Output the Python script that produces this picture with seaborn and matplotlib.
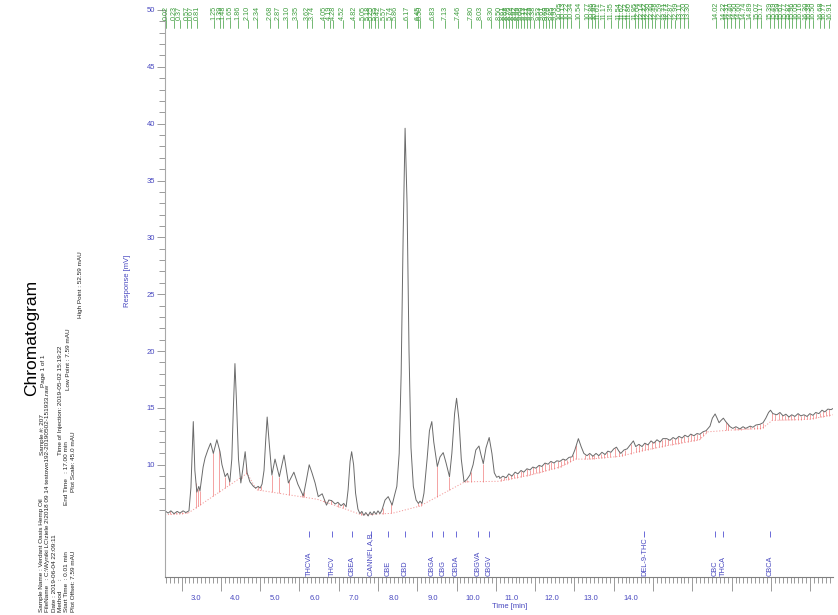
import numpy as np
import pandas as pd
import matplotlib
matplotlib.use("Agg")
import matplotlib.pyplot as plt
import matplotlib.transforms as mtransforms
import seaborn as sns

# --- trace (time in min, response in mV) ---
trace_t = [0.00, 0.08, 0.15, 0.23, 0.31, 0.38, 0.46, 0.53, 0.61, 0.66, 0.72, 0.76, 0.81, 0.86, 0.89,
           0.97, 1.02, 1.09, 1.16, 1.23, 1.32, 1.40, 1.45, 1.53, 1.59, 1.65, 1.70, 1.74, 1.78, 1.82,
           1.87, 1.93, 1.98, 2.04, 2.09, 2.16, 2.25, 2.31, 2.37, 2.42, 2.47, 2.52, 2.56, 2.60, 2.65,
           2.72, 2.80, 2.91, 3.03, 3.14, 3.28, 3.38, 3.52, 3.59, 3.67, 3.74, 3.82, 3.90, 4.00, 4.11,
           4.17, 4.24, 4.33, 4.40, 4.48, 4.55, 4.61, 4.66, 4.71, 4.75, 4.80, 4.85, 4.91, 4.96, 5.01,
           5.06, 5.11, 5.17, 5.22, 5.27, 5.32, 5.37, 5.42, 5.47, 5.52, 5.60, 5.68, 5.78, 5.84, 5.90,
           5.96, 6.01, 6.06, 6.11, 6.16, 6.21, 6.26, 6.32, 6.39, 6.45, 6.49, 6.54, 6.59, 6.67, 6.73,
           6.79, 6.84, 6.93, 7.00, 7.08, 7.15, 7.24, 7.30, 7.37, 7.42, 7.48, 7.54, 7.61, 7.68, 7.76,
           7.84, 7.91, 7.99, 8.04, 8.10, 8.17, 8.25, 8.32, 8.38, 8.44, 8.50, 8.52, 8.60, 8.68, 8.75,
           8.83, 8.91, 8.98, 9.06, 9.13, 9.21, 9.29, 9.36, 9.44, 9.52, 9.59, 9.67, 9.75, 9.82, 9.90,
           9.97, 10.05, 10.13, 10.20, 10.28, 10.36, 10.43, 10.52, 10.59, 10.66, 10.74, 10.81, 10.89, 10.97, 11.04,
           11.12, 11.20, 11.27, 11.35, 11.42, 11.49, 11.55, 11.60, 11.68, 11.76, 11.83, 11.92, 11.98, 12.06, 12.14,
           12.21, 12.29, 12.37, 12.44, 12.52, 12.60, 12.67, 12.77, 12.85, 12.93, 13.00, 13.08, 13.16, 13.23, 13.31,
           13.38, 13.46, 13.54, 13.61, 13.69, 13.77, 13.82, 13.87, 13.93, 14.00, 14.05, 14.10, 14.15, 14.21, 14.27,
           14.38, 14.45, 14.53, 14.63, 14.71, 14.78, 14.89, 14.96, 15.04, 15.14, 15.22, 15.29, 15.36, 15.41, 15.47,
           15.57, 15.65, 15.73, 15.80, 15.88, 15.95, 16.03, 16.11, 16.18, 16.26, 16.34, 16.41, 16.49, 16.56, 16.64,
           16.72, 16.79, 16.87, 16.95, 17.00]
trace_mv = [5.95, 5.75, 5.95, 5.70, 5.90, 5.75, 5.95, 5.80, 5.95, 8.0, 13.8, 9.5, 7.6, 8.1, 7.7,
            9.8, 10.6, 11.3, 11.9, 11.0, 12.2, 11.15, 10.0, 8.96, 9.25, 8.5, 10.5, 15.0, 18.9, 15.5,
            10.5, 8.4, 9.6, 11.15, 9.3, 8.5, 8.1, 7.95, 8.1, 7.95, 8.3, 9.5, 12.0, 14.2, 12.0,
            9.1, 10.5, 8.95, 10.85, 8.4, 9.35, 8.3, 7.25, 8.5, 10.0, 9.3, 8.4, 7.2, 7.45, 6.45,
            6.9, 6.85, 6.55, 6.7, 6.4, 6.6, 6.3, 7.8, 10.3, 11.15, 10.0, 7.5, 6.1, 5.7, 5.9,
            5.55, 5.8, 5.5, 5.85, 5.6, 5.9, 5.65, 5.95, 5.7, 6.0, 6.9, 7.2, 6.45, 7.3, 8.1,
            11.0, 18.0, 30.0, 39.6, 33.0, 20.0, 11.5, 8.1, 6.9, 6.6, 6.8, 6.6, 7.5, 10.5, 13.0,
            13.8, 12.0, 9.85, 10.7, 11.07, 10.2, 8.95, 11.0, 14.5, 15.85, 14.0, 10.5, 8.5, 8.7, 9.1,
            10.0, 11.3, 11.65, 10.9, 10.1, 11.5, 12.4, 11.0, 9.3, 8.9, 9.0, 8.8, 9.0, 8.85, 9.2,
            9.0, 9.35, 9.2, 9.5, 9.35, 9.65, 9.55, 9.8, 9.7, 9.95, 9.85, 10.15, 10.05, 10.3, 10.15,
            10.35, 10.3, 10.5, 10.4, 10.65, 10.7, 11.3, 12.3, 11.6, 11.0, 10.8, 11.0, 10.75, 11.0, 10.8,
            11.1, 10.9, 11.2, 11.1, 11.4, 11.55, 11.2, 11.0, 11.3, 11.4, 11.7, 12.1, 11.6, 11.8, 11.6,
            11.9, 11.75, 12.1, 11.9, 12.2, 12.0, 12.3, 12.3, 12.15, 12.4, 12.25, 12.5, 12.35, 12.6, 12.45,
            12.7, 12.55, 12.75, 12.68, 12.9, 13.0, 13.2, 13.4, 14.1, 14.47, 14.1, 13.7, 13.9, 14.1, 13.8,
            13.35, 13.2, 13.35, 13.15, 13.35, 13.2, 13.4, 13.3, 13.5, 13.56, 13.7, 14.1, 14.6, 14.8, 14.5,
            14.4, 14.6, 14.3, 14.45, 14.2, 14.4, 14.25, 14.5, 14.3, 14.4, 14.25, 14.5, 14.35, 14.6, 14.5,
            14.8, 14.65, 14.9, 14.85, 14.95]

# integration baseline and peak drop lines
base_t = [0.00, 0.59, 2.09, 2.33, 3.87, 4.54, 5.00, 5.78, 6.49, 7.63, 8.50, 9.30, 10.05, 10.45,
          10.80, 11.60, 12.10, 12.80, 13.60, 13.82, 14.40, 15.20, 15.45, 16.40, 17.00]
base_mv = [5.60, 5.75, 9.25, 7.80, 6.97, 6.17, 5.60, 5.73, 6.37, 8.50, 8.55, 9.10, 9.80, 10.50,
           10.50, 10.75, 11.20, 11.70, 12.20, 12.90, 13.05, 13.20, 13.90, 14.00, 14.40]
drop_t = [0.13, 0.20, 0.28, 0.36, 0.43, 0.50, 0.56, 0.79, 0.84, 0.89, 1.23, 1.38, 1.53, 1.64,
          1.95, 2.07, 2.29, 2.37, 2.44, 2.72, 2.91, 3.16, 3.49, 3.54, 4.05, 4.22, 4.41, 4.54,
          4.99, 5.06, 5.14, 5.27, 5.37, 5.54, 5.75, 6.45, 6.51, 6.93, 7.24, 7.63, 7.68, 7.78, 8.10,
          8.55, 8.63, 8.72, 8.80, 8.88, 8.97, 9.05, 9.12, 9.20, 9.28, 9.37, 9.45, 9.52, 9.60, 9.68,
          9.76, 9.83, 9.91, 9.99, 10.07, 10.15, 10.22, 10.30, 10.38, 10.47, 10.70, 10.78, 10.86,
          10.93, 11.01, 11.09, 11.17, 11.25, 11.33, 11.45, 11.55, 11.62, 11.70, 11.86, 11.98, 12.06,
          12.14, 12.22, 12.30, 12.40, 12.48, 12.56, 12.64, 12.72, 12.80, 12.90, 12.98, 13.06, 13.14,
          13.22, 13.30, 13.38, 13.46, 13.54, 13.62, 13.70, 13.78, 14.27, 14.33, 14.50, 14.58, 14.66,
          14.74, 14.82, 14.90, 14.98, 15.06, 15.14, 15.22, 15.46, 15.52, 15.62, 15.70, 15.78, 15.86,
          15.94, 16.02, 16.10, 16.18, 16.26, 16.34, 16.42, 16.50, 16.58, 16.66, 16.74, 16.82, 16.90]

# retention times printed along the top
rt_labels = [0.02, 0.23, 0.37, 0.57, 0.67, 0.81, 1.25, 1.39, 1.48, 1.65, 1.86, 2.10, 2.34, 2.68,
             2.87, 3.10, 3.35, 3.62, 3.74, 4.05, 4.19, 4.28, 4.52, 4.82, 5.05, 5.18, 5.25, 5.35,
             5.42, 5.57, 5.74, 5.86, 6.17, 6.45, 6.50, 6.83, 7.13, 7.46, 7.80, 8.03, 8.30, 8.50,
             8.61, 8.68, 8.76, 8.84, 8.92, 8.99, 9.06, 9.13, 9.21, 9.29, 9.38, 9.53, 9.61, 9.69,
             9.76, 9.85, 9.93, 10.05, 10.13, 10.22, 10.34, 10.54, 10.77, 10.86, 10.95, 11.01, 11.17,
             11.35, 11.54, 11.62, 11.72, 11.80, 11.95, 12.04, 12.14, 12.22, 12.30, 12.40, 12.48,
             12.59, 12.71, 12.77, 12.87, 12.99, 13.11, 13.20, 13.30, 14.02, 14.22, 14.31, 14.40,
             14.50, 14.60, 14.74, 14.89, 15.07, 15.17, 15.39, 15.49, 15.59, 15.67, 15.77, 15.87,
             15.96, 16.05, 16.16, 16.30, 16.38, 16.50, 16.68, 16.77, 16.91]

# compound windows along the bottom
compounds = ["THCVA", "THCV", "CBEA", "CANNFL A,B", "CBE", "CBD", "CBGA", "CBG", "CBDA",
             "CBGVA", "CBGV", "DEL-9-THC", "CBC", "THCA", "CBCA"]
compound_t = [3.67, 4.26, 4.77, 5.24, 5.68, 6.11, 6.79, 7.08, 7.41, 7.97, 8.25, 12.20,
              14.00, 14.21, 15.40]

time_ticks = [3.0, 4.0, 5.0, 6.0, 7.0, 8.0, 9.0, 10.0, 11.0, 12.0, 13.0, 14.0]

sns.set_theme(style="white")
plt.rcParams['font.family'] = ['Liberation Sans', 'DejaVu Sans']

BLUE = "#4848c0"
GREEN = "#3c9c3c"
RED = "#ee7070"
W, H = 838, 615

fig = plt.figure(figsize=(8.38, 6.15), dpi=100)
fig.patch.set_facecolor("white")
ax = fig.add_axes([165 / W, 38 / H, 668 / W, 567 / H])

df = pd.DataFrame({"t": trace_t, "mv": trace_mv})
base = pd.DataFrame({"t": base_t, "mv": base_mv})

# drop lines from baseline to trace
d_top = np.interp(drop_t, trace_t, trace_mv)
d_bot = np.interp(drop_t, base_t, base_mv)
ax.vlines(drop_t, d_bot, d_top, colors=RED, linewidth=0.6, alpha=0.75, zorder=1)
sns.lineplot(data=base, x="t", y="mv", ax=ax, color=RED, linewidth=0.7, alpha=0.7,
             linestyle=(0, (1.2, 1.8)), sort=False, estimator=None, zorder=1)
sns.lineplot(data=df, x="t", y="mv", ax=ax, color="#6a6a6a", linewidth=0.7,
             sort=False, estimator=None, zorder=2)

ax.set_xlim(0, 17)
ax.set_ylim(0.13, 50)
ax.set_xlabel("")
ax.set_ylabel("")

for s in ["top", "right"]:
    ax.spines[s].set_visible(False)
ax.spines["left"].set_color("#a8a8a8")
ax.spines["bottom"].set_color("#808080")
ax.spines["left"].set_linewidth(0.8)
ax.spines["bottom"].set_linewidth(0.8)

# y axis
ax.set_yticks(np.arange(10, 51, 5))
ax.set_yticks(np.arange(6, 50, 1), minor=True)
ax.tick_params(axis="y", which="both", left=True, direction="out", color="#8a8a8a",
               labelsize=5.5, labelcolor=BLUE, width=0.6)
ax.tick_params(axis="y", which="major", length=6, pad=1)
ax.tick_params(axis="y", which="minor", length=4)

# x axis marks (true time) and shifted time labels
ax.set_xticks(np.arange(0.42, 17, 1.0))
ax.set_xticks(np.arange(0.02, 17, 0.1), minor=True)
ax.tick_params(axis="x", which="both", bottom=True, direction="out", color="#8a8a8a",
               labelbottom=False, width=0.6)
ax.tick_params(axis="x", which="major", length=10)
ax.tick_params(axis="x", which="minor", length=4.5)

sec = ax.secondary_xaxis("bottom", functions=(lambda t: 3 + (t - 0.79) / 1.005,
                                              lambda u: 0.79 + (u - 3) * 1.005))
sec.set_xticks(time_ticks)
sec.set_xticklabels([f"{v:.1f}" for v in time_ticks])
sec.tick_params(axis="x", length=0, pad=13, labelsize=5.5, labelcolor=BLUE)
sec.spines["bottom"].set_visible(False)

# retention time labels at the top
top = mtransforms.blended_transform_factory(ax.transData, fig.transFigure)
for rt in rt_labels:
    ax.plot([rt, rt], [1 - 20 / H, 1 - 28 / H], transform=top, color=GREEN,
            linewidth=0.5, clip_on=False)
    ax.text(rt, 1 - 20 / H, f"{rt:.2f}", transform=top, rotation=90, ha="center",
            va="bottom", fontsize=5.2, color=GREEN, clip_on=False)

# compound windows
ax.vlines(compound_t, 3.65, 4.2, colors="#6a6ad8", linewidth=0.7)
for name, ct in zip(compounds, compound_t):
    ax.text(ct, 0.25, name, rotation=90, ha="center", va="bottom", fontsize=5.3, color=BLUE)

fig.text(510 / W, 1 - 607 / H, "Time [min]", ha="center", va="center", fontsize=5.5, color=BLUE)
fig.text(127 / W, 1 - 281 / H, "Response [mV]", rotation=90, ha="center", va="center",
         fontsize=5.5, color=BLUE)

# header block printed sideways
fig.text(32 / W, 1 - 338 / H, "Chromatogram", rotation=90, ha="center", va="center",
         fontsize=12.5, color="black")
meta = [
    (41, 612, "Sample Name : Verdant Oasis Hemp Oil"),
    (42, 455, "Sample #: 207"),
    (43, 387, "Page 1 of 1"),
    (47.5, 612, "FileName   : C:\\Wyniki LC\\ziele 2\\2018 09 14 testowo192-20190502-151933.raw"),
    (54, 612, "Date : 2019-06-04 22:09:11"),
    (60.5, 612, "Method      :"),
    (60.5, 455, "Time of Injection: 2019-05-02 15:19:22"),
    (67, 612, "Start Time  : 0.01 min"),
    (67, 505, "End Time   : 17.00 min"),
    (68, 390, "Low Point : 7.59 mAU"),
    (73.5, 612, "Plot Offset: 7.59 mAU"),
    (73.5, 492, "Plot Scale: 45.0 mAU"),
    (80.5, 318, "High Point : 52.59 mAU"),
]
for x, y, s in meta:
    fig.text(x / W, 1 - y / H, s, rotation=90, ha="center", va="bottom",
             fontsize=4.6, color="#222222")

fig.savefig("out.png", dpi=100)
